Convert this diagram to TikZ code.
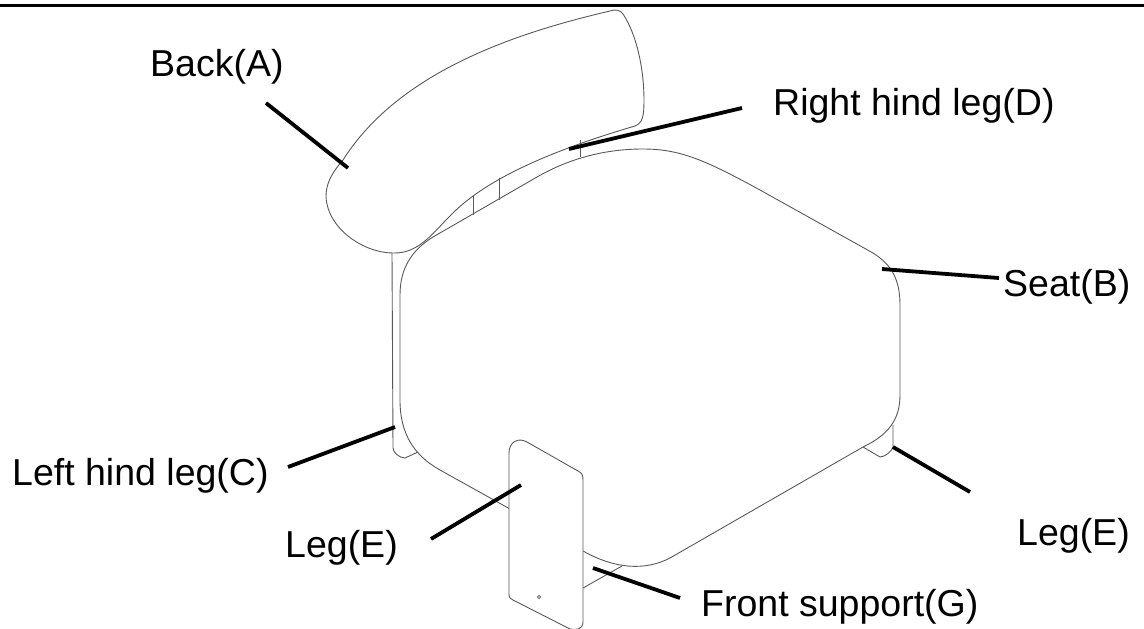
\documentclass[tikz,border=0pt]{standalone}
\usepackage{fontspec}
\setmainfont{Liberation Sans}
\tikzset{
	part/.style={draw=black!65,line width=0.9pt},
	leader/.style={draw=black,line width=3.8pt},
	callout/.style={anchor=base west,inner sep=0pt,font=\fontsize{37.5}{40}\selectfont}
}
\begin{document}
\begin{tikzpicture}[x=1pt,y=-1pt]
		\useasboundingbox (0,0) rectangle (1144,629);
		\draw[line width=3pt] (0,5.5)--(1144,5.5);
		% seat
		\draw[part] (510,509)--(440,470) .. controls (415,456) and (400,435) .. (400,400)
			--(400,295) .. controls (400,268) and (412,250) .. (433,237)
			--(537,177) .. controls (565,161) and (600,149) .. (643,149)
			.. controls (680,149) and (705,160) .. (760,190)
			--(873,253) .. controls (892,265) and (900,280) .. (900,305)
			--(900,395) .. controls (900,420) and (888,435) .. (863,447)
			--(670,558) .. controls (645,571) and (615,569) .. (583,551);
		% back
		\draw[part,fill=white] (393,253) .. controls (420,254) and (435,230) .. (453,213)
			.. controls (490,176) and (560,148) .. (635,126)
			.. controls (642,123) and (644,118) .. (644,100)
			.. controls (644,70) and (637,35) .. (623,14)
			.. controls (620,10) and (616,9) .. (610,11)
			.. controls (520,32) and (400,70) .. (343,160)
			.. controls (330,175) and (326,185) .. (326,197)
			.. controls (328,230) and (365,253) .. (393,253);
		\foreach \x/\ya/\yb in {473/195/215,499/178/200,580/140/157}{
			\draw[part] (\x,\ya)--(\x,\yb);
		}
		% hind legs and feet
		\draw[part] (392,253)--(393,448) .. controls (393,452) and (399,458) .. (405,458)--(418,452);
		\draw[part] (893,425)--(893,447) .. controls (892,451) and (885,457) .. (880,457)--(863,447);
		% front support
		\draw[part] (583,588)--(622,566);
		% plate
		\draw[part,fill=white] (509,453) .. controls (509,442) and (518,437) .. (527,442)
			--(578,471) .. controls (582,473) and (583,475) .. (583,480)
			--(583,622) .. controls (583,630) and (575,630) .. (570,629)
			--(513,600) .. controls (510,598) and (509,598) .. (509,594)--cycle;
		\draw[part,line width=0.7pt] (539,597) circle(1.7);
		% leaders
		\coordinate (backend) at(348,168);
		\coordinate (rightend) at(569,149);
		\coordinate (seatend) at(882,269);
		\coordinate (leftend) at(395,427);
		\coordinate (legend) at(893,447);
		\coordinate (platend) at(521,485);
		\coordinate (supportend) at(593,568);
		\node[callout] (back) at(150,76){Back(A)};
		\node[callout] (right) at(773,115){Right hind leg(D)};
		\node[callout] (seat) at(1003,296){Seat(B)};
		\node[callout] (left) at(12,485){Left hind leg(C)};
		\node[callout] (leg) at(1017,545){Leg(E)};
		\node[callout] (plate) at(285,557){Leg(E)};
		\node[callout] (support) at(701,616){Front support(G)};
		\coordinate (backstart) at(266,103);
		\coordinate (rightstart) at(742,108);
		\coordinate (seatstart) at(999,278);
		\coordinate (leftstart) at(288,467);
		\coordinate (legstart) at(970,492);
		\coordinate (platstart) at(431,539);
		\coordinate (supportstart) at(680,598);
		\draw[leader] (backstart)--(backend);
		\draw[leader] (rightstart)--(rightend);
		\draw[leader] (seatstart)--(seatend);
		\draw[leader] (leftstart)--(leftend);
		\draw[leader] (legstart)--(legend);
		\draw[leader] (platstart)--(platend);
		\draw[leader] (supportstart)--(supportend);
	\end{tikzpicture}
\end{document}
